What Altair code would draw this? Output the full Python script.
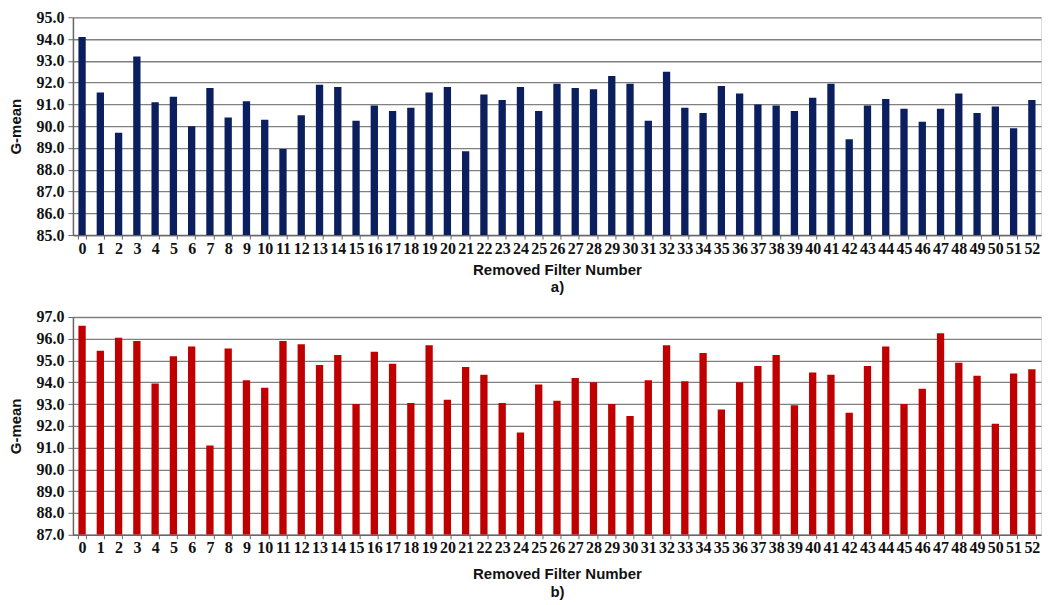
import altair as alt
import pandas as pd

filters = [str(i) for i in range(53)]

gmean_a = [94.1, 91.55, 89.7, 93.2, 91.1, 91.35, 90.0, 91.75, 90.4, 91.15,
           90.3, 88.95, 90.5, 91.9, 91.8, 90.25, 90.95, 90.7, 90.85, 91.55,
           91.8, 88.85, 91.45, 91.2, 91.8, 90.7, 91.95, 91.75, 91.7, 92.3,
           91.95, 90.25, 92.5, 90.85, 90.6, 91.85, 91.5, 91.0, 90.95, 90.7,
           91.3, 91.95, 89.4, 90.95, 91.25, 90.8, 90.2, 90.8, 91.5, 90.6,
           90.9, 89.9, 91.2]

gmean_b = [96.6, 95.45, 96.05, 95.9, 93.95, 95.2, 95.65, 91.1, 95.55, 94.1,
           93.75, 95.9, 95.75, 94.8, 95.25, 93.0, 95.4, 94.85, 93.05, 95.7,
           93.2, 94.7, 94.35, 93.05, 91.7, 93.9, 93.15, 94.2, 94.0, 93.0,
           92.45, 94.1, 95.7, 94.05, 95.35, 92.75, 94.0, 94.75, 95.25, 92.95,
           94.45, 94.35, 92.6, 94.75, 95.65, 93.0, 93.7, 96.25, 94.9, 94.3,
           92.1, 94.4, 94.6]

ticks_a = [85, 86, 87, 88, 89, 90, 91, 92, 93, 94, 95]
ticks_b = [87, 88, 89, 90, 91, 92, 93, 94, 95, 96, 97]

LABEL_FONT = "Liberation Serif"
TITLE_FONT = "Liberation Sans"


def panel(vals, color, ticks, letter, h, xtitle_pad):
    df = pd.DataFrame({"f": filters, "g": vals})
    lo, hi = ticks[0], ticks[-1]
    return alt.Chart(df).mark_bar(color=color, clip=True).encode(
        x=alt.X(
            "f:N", sort=filters,
            scale=alt.Scale(paddingInner=0.6, paddingOuter=0.3),
            axis=alt.Axis(
                title=["Removed Filter Number", letter],
                labelAngle=0, labelOverlap=False, tickBand="extent",
                labelFont=LABEL_FONT, labelFontWeight="bold", labelFontSize=16,
                labelColor="#111", labelPadding=1, tickSize=4,
                tickColor="#666", domainColor="#666", domainWidth=1.5,
                titleFont=TITLE_FONT, titleFontWeight="bold", titleFontSize=15,
                titleColor="#111", titlePadding=xtitle_pad, titleLineHeight=18,
                grid=False,
            ),
        ),
        y=alt.Y(
            "g:Q",
            scale=alt.Scale(domain=[lo, hi], nice=False, zero=False),
            axis=alt.Axis(
                values=ticks, format=".1f", title="G-mean",
                labelFont=LABEL_FONT, labelFontWeight="bold", labelFontSize=16,
                labelColor="#111", labelPadding=4, tickSize=5,
                tickColor="#666", domainColor="#666", domainWidth=1.5,
                gridColor="#808080", gridWidth=1.3,
                titleFont=TITLE_FONT, titleFontWeight="bold", titleFontSize=15,
                titleColor="#111", titlePadding=12,
            ),
        ),
        y2=alt.datum(lo),
    ).properties(width=969, height=h)


top = panel(gmean_a, "#0b1f5e", ticks_a, "a)", 218, 6)
bottom = panel(gmean_b, "#c00000", ticks_b, "b)", 218, 11)

chart = alt.vconcat(top, bottom, spacing=12).properties(
    padding={"left": 0, "top": 0, "right": 0, "bottom": 0}
).configure_view(stroke="#808080", strokeWidth=1.3).configure(background="white")

chart.save("out.html", embed_options={"renderer": "svg", "actions": False})
